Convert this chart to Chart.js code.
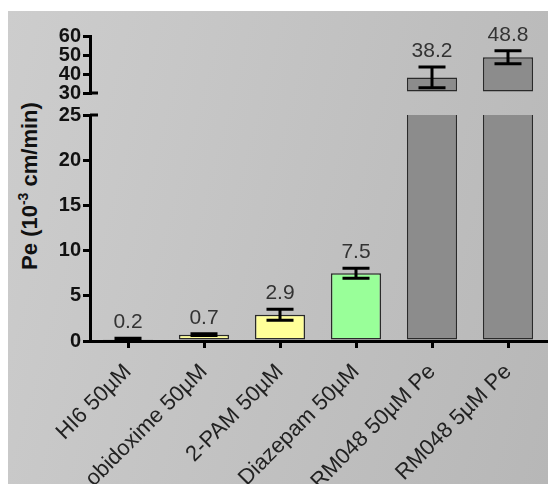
<!DOCTYPE html>
<html><head><meta charset="utf-8">
<script src="https://cdn.jsdelivr.net/npm/chart.js@4"></script>
<style>
html,body{margin:0;padding:0;background:#fff;width:548px;height:484px;overflow:hidden;}
#bg{position:absolute;left:8px;top:11px;width:540px;height:473px;background:linear-gradient(105deg,#cdcdcd 0%,#c2c2c2 50%,#b7b7b7 100%);}
#top{position:absolute;left:0;top:0;}
#bot{position:absolute;left:0;top:100px;}
#ytitle{position:absolute;left:29px;top:186px;transform:translate(-50%,-50%) rotate(-90deg);font:bold 22px 'Liberation Sans',Arial,sans-serif;white-space:nowrap;color:#111;}
#ytitle sup{font-size:14px;}
</style></head><body>
<div id="bg"></div>
<div id="ytitle">Pe (10<sup>-3</sup> cm/min)</div>
<canvas id="top" width="548" height="107"></canvas>
<canvas id="bot" width="548" height="384"></canvas>
<script>
const categories = ['HI6 50µM','obidoxime 50µM','2-PAM 50µM','Diazepam 50µM','RM048 50µM Pe','RM048 5µM Pe'];
const peValues = [0.2, 0.7, 2.9, 7.5, 38.2, 48.8];
const peErrors = [0.1, 0.1, 0.6, 0.55, 5.5, 3.4];
const barColors = ['#a0a0a0','#ffff99','#ffff99','#99ff99','#8c8c8c','#8c8c8c'];
const lowerTicks = [0, 5, 10, 15, 20, 25];
const upperTicks = [30, 40, 50, 60];

const FONT = "'Liberation Sans', Arial, sans-serif";

const errPlugin = {
  id: 'errbars',
  afterDatasetsDraw(chart) {
    const ctx = chart.ctx, y = chart.scales.y, a = chart.chartArea;
    const meta = chart.getDatasetMeta(0);
    ctx.save();
    ctx.beginPath();
    ctx.rect(a.left, a.top - 2, a.right - a.left, a.bottom - a.top + 4);
    ctx.clip();
    ctx.strokeStyle = '#000';
    ctx.lineWidth = 3;
    meta.data.forEach((bar, i) => {
      const v = peValues[i], e = peErrors[i];
      const yt = y.getPixelForValue(v + e), yb = y.getPixelForValue(v - e), x = bar.x;
      ctx.beginPath();
      ctx.moveTo(x, yb); ctx.lineTo(x, yt);
      ctx.moveTo(x - 13.5, yt); ctx.lineTo(x + 13.5, yt);
      ctx.moveTo(x - 13.5, yb); ctx.lineTo(x + 13.5, yb);
      ctx.stroke();
    });
    ctx.restore();
    ctx.save();
    ctx.font = '21px ' + FONT;
    ctx.fillStyle = '#333';
    ctx.textAlign = 'center';
    ctx.textBaseline = 'alphabetic';
    meta.data.forEach((bar, i) => {
      const v = peValues[i];
      if (v < y.min || v > y.max) return;
      ctx.fillText(v.toFixed(1), bar.x, y.getPixelForValue(v + peErrors[i]) - 10);
    });
    ctx.restore();
    // axis break marks
    ctx.save();
    ctx.strokeStyle = '#000';
    ctx.lineWidth = 3;
    const yy = chart.canvas.id === 'top' ? y.getPixelForValue(y.min) : y.getPixelForValue(y.max);
    ctx.beginPath();
    ctx.moveTo(a.left, yy); ctx.lineTo(a.left + 8, yy);
    ctx.stroke();
    ctx.restore();
  }
};

function yScale(ticksArr) {
  return {
    min: ticksArr[0], max: ticksArr[ticksArr.length - 1],
    afterBuildTicks: s => { s.ticks = ticksArr.map(v => ({ value: v })); },
    afterFit: s => { s.width = 90; },
    border: { display: true, color: '#000', width: 3 },
    grid: { display: true, drawOnChartArea: false, drawTicks: true, tickLength: 7, lineWidth: 3, color: '#000' },
    ticks: { font: { family: FONT, size: 20, weight: 'bold' }, color: '#111', padding: 2, autoSkip: false }
  };
}

function makeChart(id, yTicks, isTop) {
  const ds = {
    data: peValues,
    backgroundColor: barColors,
    borderColor: '#2a2a2a',
    borderWidth: 1.5,
    borderSkipped: false,
    barPercentage: 0.66,
    categoryPercentage: 1,
    clip: 0
  };
  if (isTop) ds.base = yTicks[0];
  const xScale = {
    display: !isTop,
    border: { display: true, color: '#000', width: 3 },
    grid: { display: true, offset: false, drawOnChartArea: false, drawTicks: true, tickLength: 7, lineWidth: 3, color: '#000' },
    ticks: { font: { family: FONT, size: 22 }, color: '#222', minRotation: 45, maxRotation: 45, autoSkip: false, padding: 11 }
  };
  if (!isTop) xScale.afterFit = s => { s.height = 143; };
  return new Chart(document.getElementById(id), {
    type: 'bar',
    data: { labels: categories, datasets: [ds] },
    options: {
      responsive: false,
      animation: false,
      devicePixelRatio: 1,
      layout: { padding: isTop ? { top: 36, bottom: 8, left: 0, right: 2 } : { top: 15, bottom: 0, left: 0, right: 2 } },
      plugins: { legend: { display: false }, tooltip: { enabled: false } },
      scales: { x: xScale, y: yScale(yTicks) }
    },
    plugins: [errPlugin]
  });
}

makeChart('top', upperTicks, true);
makeChart('bot', lowerTicks, false);
</script>
</body></html>
